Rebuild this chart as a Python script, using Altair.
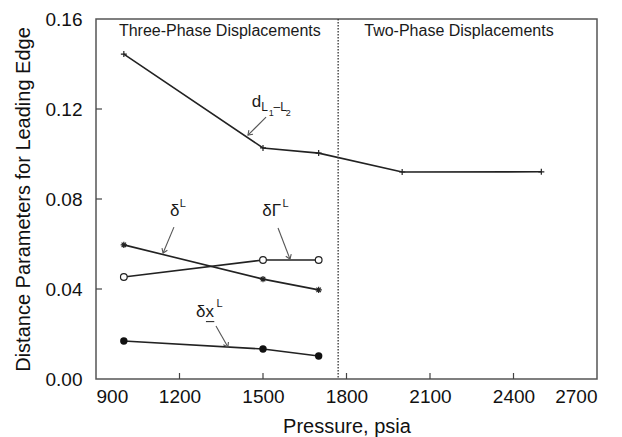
import math
import altair as alt
import pandas as pd

# ---- data ----
pressure_d = [1000, 1500, 1700, 2000, 2500]
d_L1L2 = [0.1444, 0.1027, 0.1004, 0.0920, 0.0921]

pressure_3p = [1000, 1500, 1700]
delta_L = [0.0596, 0.0444, 0.0396]
delta_Gamma_L = [0.0453, 0.0529, 0.0529]
delta_x_L = [0.0169, 0.0133, 0.0102]

x_ticks = [900, 1200, 1500, 1800, 2100, 2400, 2700]
y_ticks = [0.00, 0.04, 0.08, 0.12, 0.16]
boundary_pressure = 1770

FONT = "Liberation Sans"
INK = "#222222"
W, H = 501, 360
X_DOM = [900, 2700]
Y_DOM = [0, 0.16]

xs = alt.Scale(domain=X_DOM, nice=False, zero=False)
ys = alt.Scale(domain=Y_DOM, nice=False, zero=False)

rows = []
for p, v in zip(pressure_d, d_L1L2):
    rows.append({"series": "d", "P": p, "v": v})
for name, vals in [("dL", delta_L), ("dG", delta_Gamma_L), ("dx", delta_x_L)]:
    for p, v in zip(pressure_3p, vals):
        rows.append({"series": name, "P": p, "v": v})
df = pd.DataFrame(rows)

X = alt.X("P:Q", scale=xs, title="Pressure, psia",
          axis=alt.Axis(values=x_ticks, format="d", ticks=False, domain=False, grid=False,
                        labelFont=FONT, labelFontSize=19, labelColor="#111", labelPadding=8,
                        titleFont=FONT, titleFontSize=20, titleFontWeight="normal",
                        titleColor="#111", titlePadding=10))
Y = alt.Y("v:Q", scale=ys, title="Distance Parameters for Leading Edge",
          axis=alt.Axis(values=y_ticks, format=".2f", ticks=False, domain=False, grid=False,
                        labelFont=FONT, labelFontSize=19, labelColor="#111", labelPadding=14,
                        titleFont=FONT, titleFontSize=20, titleFontWeight="normal",
                        titleColor="#111", titlePadding=12))

base = alt.Chart(df)
lines = base.mark_line(color=INK, strokeWidth=1.6).encode(x=X, y=Y, detail="series:N")

PLUS = "M-1,0L1,0M0,-1L0,1"
STAR = "M-1,0L1,0M0,-1L0,1M-0.7,-0.7L0.7,0.7M-0.7,0.7L0.7,-0.7"

def pts(name, **kw):
    return base.transform_filter(alt.datum.series == name).mark_point(**kw).encode(
        x=alt.X("P:Q", scale=xs), y=alt.Y("v:Q", scale=ys))

p_d = pts("d", shape=PLUS, size=36, color=INK, strokeWidth=1.2, filled=False, opacity=1)
p_dL = pts("dL", shape=STAR, size=40, color=INK, strokeWidth=1.2, filled=False, opacity=1)
p_dG = pts("dG", shape="circle", size=45, color=INK, strokeWidth=1.2, filled=False,
           fill="white", opacity=1)
p_dx = pts("dx", shape="circle", size=55, color="#111", filled=True, opacity=1)

# dotted boundary line
bound = alt.Chart(pd.DataFrame({"P": [boundary_pressure]})).mark_rule(
    color="#333", strokeWidth=1.3, strokeDash=[1.5, 1.5]).encode(
    x=alt.X("P:Q", scale=xs), y=alt.value(0), y2=alt.value(H))

# inward ticks
xt = alt.Chart(pd.DataFrame({"P": x_ticks[1:-1]})).mark_rule(color="#444", strokeWidth=1.2).encode(
    x=alt.X("P:Q", scale=xs), y=alt.value(H), y2=alt.value(H - 6))
yt = alt.Chart(pd.DataFrame({"v": y_ticks[1:-1]})).mark_rule(color="#444", strokeWidth=1.2).encode(
    y=alt.Y("v:Q", scale=ys), x=alt.value(0), x2=alt.value(6))

# centred region titles
titles = pd.DataFrame([
    {"P": 1345, "v": 0.1545, "t": "Three-Phase Displacements"},
    {"P": 2204, "v": 0.1545, "t": "Two-Phase Displacements"},
])
region_txt = alt.Chart(titles).mark_text(font=FONT, color="#1a1a1a", baseline="middle",
                                          align="center", fontSize=16).encode(
    x=alt.X("P:Q", scale=xs), y=alt.Y("v:Q", scale=ys), text="t:N")

# series labels (left aligned pieces, data coordinates)
ann = pd.DataFrame([
    {"P": 1460, "v": 0.1231, "t": "d", "s": 17},
    {"P": 1494, "v": 0.1211, "t": "L", "s": 12},
    {"P": 1521, "v": 0.1184, "t": "1", "s": 9},
    {"P": 1538, "v": 0.1211, "t": "–L", "s": 12},
    {"P": 1582, "v": 0.1184, "t": "2", "s": 9},
    {"P": 1166, "v": 0.0747, "t": "δ", "s": 17},
    {"P": 1201, "v": 0.0777, "t": "L", "s": 11},
    {"P": 1497, "v": 0.0747, "t": "δΓ", "s": 17},
    {"P": 1570, "v": 0.0777, "t": "L", "s": 11},
    {"P": 1259, "v": 0.0296, "t": "δx", "s": 17},
    {"P": 1333, "v": 0.0335, "t": "L", "s": 11},
])
texts = alt.Chart(ann).mark_text(font=FONT, color="#1a1a1a", baseline="middle", align="left").encode(
    x=alt.X("P:Q", scale=xs), y=alt.Y("v:Q", scale=ys), text="t:N",
    size=alt.Size("s:Q", scale=None, legend=None))

underline = alt.Chart(pd.DataFrame({"P": [1295], "P2": [1325], "v": [0.0255]})).mark_rule(
    color="#1a1a1a", strokeWidth=1).encode(
    x=alt.X("P:Q", scale=xs), x2="P2", y=alt.Y("v:Q", scale=ys))

# arrows: start -> end in data coords
arrows = [
    (1511, 0.1164, 1446, 0.1084),
    (1180, 0.0675, 1141, 0.0560),
    (1554, 0.0671, 1597, 0.0533),
    (1331, 0.0236, 1374, 0.0142),
]
px_per_P = W / (X_DOM[1] - X_DOM[0])
px_per_v = H / (Y_DOM[1] - Y_DOM[0])
arr_rows = []
for a, b, c, d in arrows:
    ang = math.degrees(math.atan2(-(d - b) * px_per_v, (c - a) * px_per_P)) % 360
    arr_rows.append({"P": a, "v": b, "P2": c, "v2": d, "ang": ang})
adf = pd.DataFrame(arr_rows)
shafts = alt.Chart(adf).mark_rule(color="#555", strokeWidth=1.1).encode(
    x=alt.X("P:Q", scale=xs), y=alt.Y("v:Q", scale=ys), x2="P2", y2="v2")
HEAD = "M-1,-0.7L0,0L-1,0.7"
heads = alt.Chart(adf).mark_point(shape=HEAD, size=70, color="#555", strokeWidth=1.1,
                                  filled=False, opacity=1).encode(
    x=alt.X("P2:Q", scale=xs), y=alt.Y("v2:Q", scale=ys),
    angle=alt.Angle("ang:Q", scale=None))

chart = alt.layer(lines, bound, xt, yt, p_d, p_dL, p_dG, p_dx, shafts, heads,
                  region_txt, texts, underline).properties(
    width=W, height=H,
    autosize=alt.AutoSizeParams(type="none"),
    padding={"left": 96, "top": 19, "right": 25, "bottom": 58},
    background="white",
).configure_view(stroke="#555", strokeWidth=1.5)

chart.save("out.html", embed_options={"renderer": "svg", "actions": False})
